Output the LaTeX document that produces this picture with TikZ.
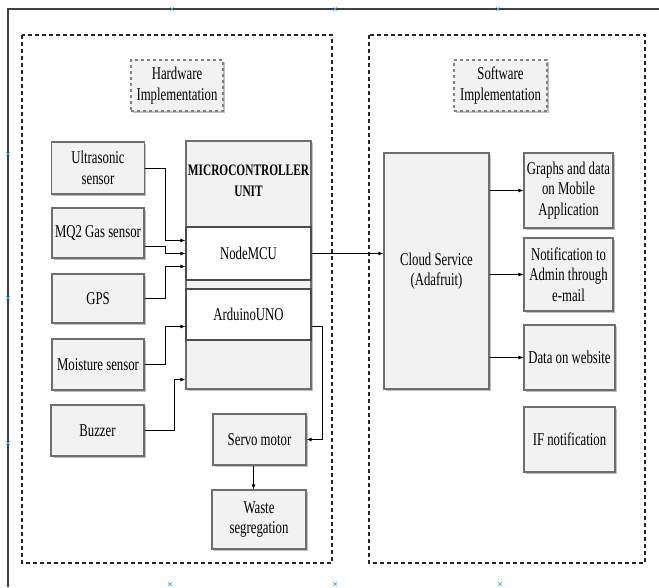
\documentclass[tikz,border=0pt]{standalone}
\usepackage{fontspec}
\setmainfont{Liberation Serif}[FakeStretch=0.71]
\usepackage{tikz}
\usetikzlibrary{arrows.meta,shadows}

\definecolor{boxfill}{HTML}{F2F2F2}
\definecolor{boxline}{HTML}{6E6E6E}
\definecolor{handleblue}{HTML}{3DA8F0}

\begin{document}
\begin{tikzpicture}[x=1pt,y=-1pt,
  font=\fontsize{18}{20.5}\selectfont,
  block/.style={draw=boxline, fill=boxfill, line width=1.2pt, align=center, inner sep=1pt,
    drop shadow={shadow xshift=1.5pt, shadow yshift=-1.5pt, fill=black!25, opacity=1}},
  unitbox/.style={draw=black!70, fill=white, line width=1.2pt, align=center, inner sep=1pt},
  labelbox/.style={block, draw=gray, dashed},
  zone/.style={draw=black!85, line width=1.2pt, dash pattern=on 4pt off 3pt},
  link/.style={-{Latex[length=5pt,width=4pt]}, line width=0.9pt}]
\useasboundingbox (0,0) rectangle (659,587);

% Frame of the page and its handles
\draw[black!75, line width=1.2pt] (8,587) -- (8,9) -- (659,9);
\foreach \p in {(172,9),(335,9),(498,9),(8,154),(8,298),(8,443),(170,584),(335,584),(500,584)}
  \draw[handleblue, line width=0.7pt] \p +(-1.7,-1.7) -- +(1.7,1.7) +(-1.7,1.7) -- +(1.7,-1.7);

% Dashed groups
\draw[zone] (22,35) rectangle (332,563);
\draw[zone] (369,35) rectangle (645,563);
\node[labelbox, minimum width=92, minimum height=51] (hwl) at (177,85.5) {Hardware\\Implementation};
\node[labelbox, minimum width=93, minimum height=51] (swl) at (500.5,85.5) {Software\\Implementation};

% Sensors
\node[block, minimum width=93, minimum height=52] (us) at (98,168) {Ultrasonic\\sensor};
\node[block, minimum width=92, minimum height=50] (mq) at (98,233) {MQ2 Gas sensor};
\node[block, minimum width=92, minimum height=49] (gps) at (98,298.5) {GPS};
\node[block, minimum width=92, minimum height=51] (ms) at (98,364.5) {Moisture sensor};
\node[block, minimum width=93, minimum height=51] (bz) at (97.5,430.5) {Buzzer};

% Microcontroller unit
\node[block, minimum width=125, minimum height=248] (mcu) at (248.5,265) {};
\node[font=\bfseries\fontsize{16}{21}\selectfont, align=center] (mcut) at (248.5,181) {MICROCONTROLLER\\UNIT};
\node[unitbox, minimum width=125, minimum height=53] (nmcu) at (248.5,253.5) {NodeMCU};
\node[unitbox, minimum width=125, minimum height=51] (ard) at (248.5,314.5) {ArduinoUNO};

% Actuators
\node[block, minimum width=93, minimum height=51] (sv) at (259.5,439.5) {Servo motor};
\node[block, minimum width=94, minimum height=59] (ws) at (259,519.5) {Waste\\segregation};

% Cloud side
\node[block, minimum width=105, minimum height=236] (cloud) at (436.5,271) {Cloud Service\\(Adafruit)};
\node[block, minimum width=89, minimum height=75] (gr) at (568.5,190.5) {Graphs and data\\on Mobile\\Application};
\node[block, minimum width=89, minimum height=73] (nt) at (568.5,274.5) {Notification to\\Admin through\\e-mail};
\node[block, minimum width=91, minimum height=65] (dw) at (569.5,357.5) {Data on website};
\node[block, minimum width=91, minimum height=65] (ifn) at (569.5,439.5) {IF notification};

% Connections
\draw[link] (us.east) -- ++(20,0) |- ([yshift=13pt]nmcu.west);
\draw[link] ([yshift=-13pt]mq.east) -- ++(21,0) |- (nmcu.west);
\draw[link] (gps.east) -- ++(21,0) |- ([yshift=-13pt]nmcu.west);
\draw[link] (ms.east) -- ++(21,0) |- ([yshift=-12pt]ard.west);
\draw[link] (bz.east) -- ++(30,0) |- ([yshift=10pt]mcu.south west);
\draw[link] ([yshift=-12pt]ard.east) -- ++(11,0) |- (sv.east);
\draw[link] ([xshift=-6pt]sv.south) -- ([xshift=-6pt]sv.south |- ws.north);
\draw[link] (nmcu.east) -- (nmcu.east -| cloud.west);
\draw[link] (gr.west -| cloud.east) -- (gr.west);
\draw[link] (nt.west -| cloud.east) -- (nt.west);
\draw[link] (dw.west -| cloud.east) -- (dw.west);
\end{tikzpicture}
\end{document}
